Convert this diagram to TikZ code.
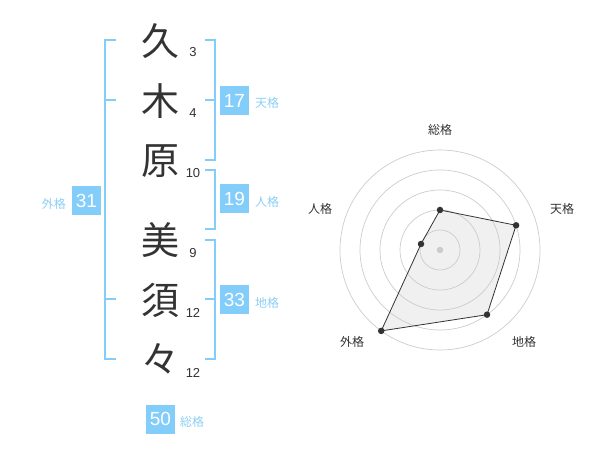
\documentclass[tikz,border=0pt]{standalone}
\usepackage{fontspec}
\setmainfont{Liberation Sans}
\newfontfamily\jp{Noto Sans CJK JP}
\definecolor{sky}{HTML}{82CDFA}
\definecolor{skytext}{HTML}{8CCFF5}
\definecolor{ink}{HTML}{333333}
\definecolor{ring}{HTML}{CCCCCC}
\begin{document}
\begin{tikzpicture}[x=1pt,y=-1pt,
  kanji/.style={inner sep=0pt,font=\jp\fontsize{38}{38}\selectfont,text=ink},
  strokes/.style={inner sep=0pt,font=\fontsize{13}{13}\selectfont,text=ink},
  bracket/.style={draw=sky,line width=2pt},
  numbox/.style={fill=sky,text=white,minimum width=29pt,minimum height=29pt,inner sep=0pt,font=\fontsize{19}{19}\selectfont},
  kaku/.style={inner sep=0pt,text=skytext,font=\jp\fontsize{12}{12}\selectfont},
  axislabel/.style={inner sep=0pt,text=ink,font=\jp\fontsize{12}{12}\selectfont},
  ringline/.style={draw=ring,line width=0.7pt},
  dot/.style={circle,fill=ink,inner sep=0pt,minimum size=6.5pt}
]
\useasboundingbox (0,0) rectangle (600,470);

% kanji
\node[kanji] (k1) at (160,41) {久};
\node[kanji] (k2) at (160,101) {木};
\node[kanji] (k3) at (160,161) {原};
\node[kanji] (k4) at (160,240) {美};
\node[kanji] (k5) at (160,300) {須};
\node[kanji] (k6) at (160,359) {々};

% stroke counts
\node[strokes] (s1) at (193,52) {3};
\node[strokes] (s2) at (193,113) {4};
\node[strokes] (s3) at (193,173) {10};
\node[strokes] (s4) at (193,253) {9};
\node[strokes] (s5) at (193,313) {12};
\node[strokes] (s6) at (193,373) {12};

% brackets
\draw[bracket] (116,40) -- (105,40) -- (105,359) -- (116,359);
\draw[bracket] (105,100) -- (116,100);
\draw[bracket] (105,299) -- (116,299);
\draw[bracket] (205,40) -- (215,40) -- (215,160) -- (205,160);
\draw[bracket] (215,100) -- (205,100);
\draw[bracket] (205,170) -- (215,170) -- (215,229) -- (205,229);
\draw[bracket] (205,240) -- (215,240) -- (215,359) -- (205,359);
\draw[bracket] (215,299) -- (205,299);

% score boxes
\node[numbox] (ten) at (234.5,100.5) {17};
\node[kaku,anchor=west] (tenl) at (255,103) {天格};
\node[numbox] (jin) at (234.5,199) {19};
\node[kaku,anchor=west] (jinl) at (255,202) {人格};
\node[numbox] (chi) at (234.5,300) {33};
\node[kaku,anchor=west] (chil) at (255,303) {地格};
\node[numbox] (gai) at (86.5,201) {31};
\node[kaku,anchor=east] (gail) at (66,204) {外格};
\node[numbox] (sou) at (160.5,419) {50};
\node[kaku,anchor=west] (soul) at (180,422) {総格};

% radar chart
\coordinate (c) at (440,250);
\foreach \r in {20,40,60,80,100} \draw[ringline] (c) circle[radius=\r];
\fill[ring] (c) circle[radius=3.3];

\coordinate (pS) at (440,210);
\coordinate (pT) at (516.1,225.3);
\coordinate (pC) at (487.0,314.7);
\coordinate (pG) at (381.2,330.9);
\coordinate (pJ) at (421.0,244.0);

\draw[ink,line width=0.8pt,fill=ring,fill opacity=0.3] (pS) -- (pT) -- (pC) -- (pG) -- (pJ) -- cycle;
\foreach \p in {pS,pT,pC,pG,pJ} \node[dot] at (\p) {};

\node[axislabel] (lS) at (440,130) {総格};
\node[axislabel] (lT) at (562,209) {天格};
\node[axislabel] (lC) at (524,342) {地格};
\node[axislabel] (lG) at (352,342) {外格};
\node[axislabel] (lJ) at (320,209) {人格};
\end{tikzpicture}
\end{document}
